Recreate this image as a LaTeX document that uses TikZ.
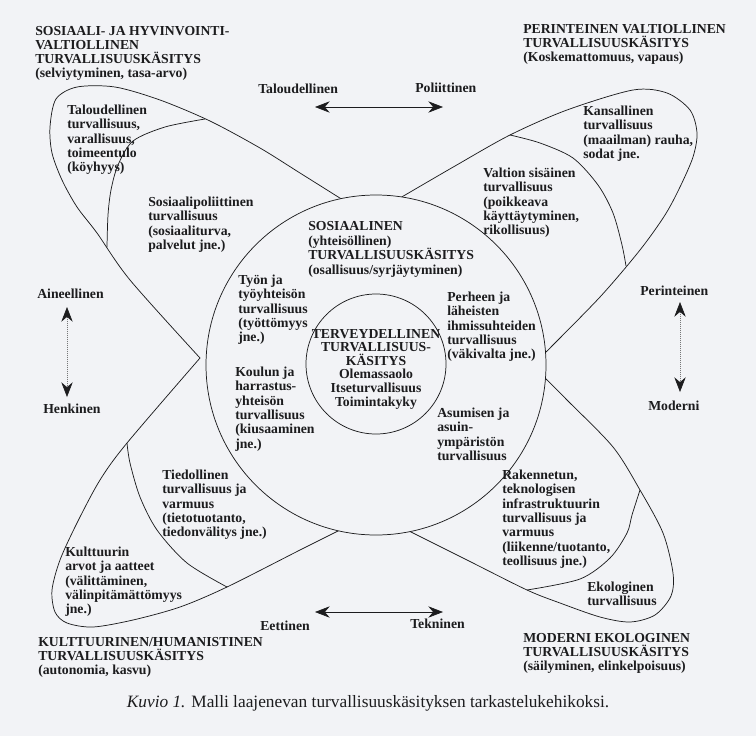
\documentclass[tikz,border=0pt]{standalone}
\usepackage{fontspec}
\setmainfont{Liberation Serif}
\usetikzlibrary{arrows.meta}
\definecolor{paper}{RGB}{242,243,246}
\definecolor{ink}{RGB}{28,28,30}
\begin{document}
\begin{tikzpicture}[x=0.75pt,y=-0.75pt,
  lbl/.style={font={\fontsize{10.3}{10.8}\selectfont\bfseries}, align=left, anchor=north west, inner sep=0pt, text=ink},
  head/.style={lbl, font={\fontsize{10.3}{10.5}\selectfont\bfseries}},
  axislbl/.style={font={\fontsize{10.3}{10.8}\selectfont\bfseries}, anchor=base west, inner sep=0pt, text=ink},
  petal/.style={draw=ink, line width=0.55pt},
  ring/.style={draw=ink, line width=0.55pt, fill=paper},
  dblarrow/.style={{Stealth[length=11pt,width=8.5pt,color=ink]}-{Stealth[length=11pt,width=8.5pt,color=ink]}, line width=0.5pt, draw=ink},
  vertarrow/.style={dblarrow, draw=ink!60}
]
\fill[paper] (0,0) rectangle (756,736);
\useasboundingbox (0,0) rectangle (756,736);

% petals
\draw[petal] plot[smooth, tension=0.5] coordinates {(343,200) (300,173) (260,148) (210,121) (160,100) (115,87) (77,87) (56,99) (50,127) (52,153) (62,180) (77,207) (97,233) (130,280) (200,358)};
\draw[petal] plot[smooth, tension=0.5] coordinates {(205,119) (165,127) (133,141) (118,165) (111,190) (108,215) (107,247)};

\draw[petal] plot[smooth, tension=0.5] coordinates {(400,198) (455,166) (510,135) (567,110) (633,90) (667,93) (690,110) (697,133) (693,157) (680,187) (665,215) (640,250) (600,297) (546,352)};
\draw[petal] plot[smooth, tension=0.5] coordinates {(510,135) (540,143) (573,158) (598,185) (613,213) (622,245) (626,266)};

\draw[petal] plot[smooth, tension=0.5] coordinates {(545,378) (567,400) (613,447) (640,490) (663,533) (673,573) (671,596) (655,615) (630,622) (600,617) (560,603) (527,590) (467,560) (407,530)};
\draw[petal] plot[smooth, tension=0.5] coordinates {(640,490) (632,515) (627,533) (610,558) (580,579) (527,590)};

\draw[petal] plot[smooth, tension=0.5] coordinates {(200,358) (127,443) (100,480) (77,523) (60,560) (52,590) (55,612) (67,623) (93,627) (133,620) (180,607) (227,587) (300,550) (340,530)};
\draw[petal] plot[smooth, tension=0.5] coordinates {(127,443) (130,463) (140,497) (157,530) (187,563) (227,587)};

% circles
\node[ring, circle, minimum size=340*0.75pt, inner sep=0pt] (outer) at (376,365) {};
\node[ring, circle, minimum size=140*0.75pt, inner sep=0pt] (inner) at (376,364) {};

% headings
\node[head] (hsoc) at (35,26.5) {SOSIAALI- JA HYVINVOINTI-\\VALTIOLLINEN\\TURVALLISUUSKÄSITYS\\(selviytyminen, tasa-arvo)};
\node[head] (hper) at (523,24.5) {PERINTEINEN VALTIOLLINEN\\TURVALLISUUSKÄSITYS\\(Koskemattomuus, vapaus)};
\node[head] (hkul) at (38,637) {KULTTUURINEN/HUMANISTINEN\\TURVALLISUUSKÄSITYS\\(autonomia, kasvu)};
\node[head] (hmod) at (523,633) {MODERNI EKOLOGINEN\\TURVALLISUUSKÄSITYS\\(säilyminen, elinkelpoisuus)};

% petal texts
\node[lbl] (tal) at (67,104.5) {Taloudellinen\\turvallisuus,\\varallisuus,\\toimeentulo\\(köyhyys)};
\node[lbl] (sos) at (148,196.5) {Sosiaalipoliittinen\\turvallisuus\\(sosiaaliturva,\\palvelut jne.)};
\node[lbl] (kan) at (583,105.5) {Kansallinen\\turvallisuus\\(maailman) rauha,\\sodat jne.};
\node[lbl] (val) at (483,167.5) {Valtion sisäinen\\turvallisuus\\(poikkeava\\käyttäytyminen,\\rikollisuus)};
\node[lbl] (tie) at (162,469.5) {Tiedollinen\\turvallisuus ja\\varmuus\\(tietotuotanto,\\tiedonvälitys jne.)};
\node[lbl] (kul) at (65,546.5) {Kulttuurin\\arvot ja aatteet\\(välittäminen,\\välinpitämättömyys\\jne.)};
\node[lbl] (rak) at (502,469.5) {Rakennetun,\\teknologisen\\infrastruktuurin\\turvallisuus ja\\varmuus\\(liikenne/tuotanto,\\teollisuus jne.)};
\node[lbl] (eko) at (587,581.5) {Ekologinen\\turvallisuus};

% ring texts
\node[lbl] (sosn) at (308,221.5) {SOSIAALINEN\\(yhteisöllinen)\\TURVALLISUUSKÄSITYS\\(osallisuus/syrjäytyminen)};
\node[lbl] (tyo) at (238,274.5) {Työn ja\\työyhteisön\\turvallisuus\\(työttömyys\\jne.)};
\node[lbl] (per) at (447,291.5) {Perheen ja\\läheisten\\ihmissuhteiden\\turvallisuus\\(väkivalta jne.)};
\node[lbl] (kou) at (235,366.5) {Koulun ja\\harrastus-\\yhteisön\\turvallisuus\\(kiusaaminen\\jne.)};
\node[lbl] (asu) at (437,407.5) {Asumisen ja\\asuin-\\ympäristön\\turvallisuus};
\node[lbl, align=center, anchor=center, font={\fontsize{10.3}{10.2}\selectfont\bfseries}] (ter) at (376,369) {TERVEYDELLINEN\\TURVALLISUUS-\\KÄSITYS\\Olemassaolo\\Itseturvallisuus\\Toimintakyky};

% axes
\node[axislbl] (atal) at (258,93.5) {Taloudellinen};
\node[axislbl] (apol) at (415,92.5) {Poliittinen};
\node[axislbl] (aain) at (37,298.5) {Aineellinen};
\node[axislbl] (ahen) at (43,413.5) {Henkinen};
\node[axislbl] (aper) at (640,295.5) {Perinteinen};
\node[axislbl] (amod) at (648,410.5) {Moderni};
\node[axislbl] (aeet) at (260,630.5) {Eettinen};
\node[axislbl] (atek) at (410,628.5) {Tekninen};

\coordinate (t1) at (315,107); \coordinate (t2) at (443,107);
\coordinate (b1) at (315,612); \coordinate (b2) at (443,612);
\coordinate (l1) at (67,307); \coordinate (l2) at (67,397);
\coordinate (r1) at (680,302); \coordinate (r2) at (680,392);
\draw[dblarrow] (t1) -- (t2);
\draw[dblarrow] (b1) -- (b2);
\draw[vertarrow, densely dotted] (l1) -- (l2);
\draw[vertarrow, densely dotted] (r1) -- (r2);

% caption
\node[anchor=base, inner sep=0pt, font={\fontsize{13}{15}\selectfont}, text=ink] (cap) at (368,707) {\textit{Kuvio 1.} Malli laajenevan turvallisuuskäsityksen tarkastelukehikoksi.};
\end{tikzpicture}
\end{document}
